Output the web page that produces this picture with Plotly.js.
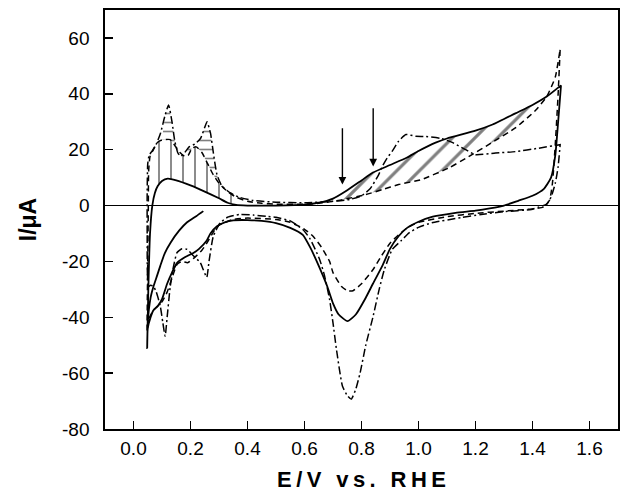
<!DOCTYPE html>
<html>
<head>
<meta charset="utf-8">
<script src="https://cdn.plot.ly/plotly-3.0.1.min.js"></script>
<style>html,body{margin:0;padding:0;background:#fff;}</style>
</head>
<body>
<div id="chart" style="width:620px;height:493px;"></div>
<script>
// ---- Solid curve ----
var solidStartX = [0.245, 0.22, 0.188, 0.16, 0.13, 0.11, 0.094, 0.083, 0.07, 0.06, 0.05];
var solidStartY = [-2, -3.8, -6, -9, -13.3, -17, -21.6, -25, -29, -33, -42];
var solidAnX = [0.048, 0.052, 0.058, 0.066, 0.075, 0.085, 0.1, 0.12, 0.15, 0.2, 0.25, 0.3, 0.33, 0.36, 0.4, 0.5, 0.6, 0.65, 0.7, 0.75, 0.8, 0.84, 0.9, 0.96, 1.0, 1.06, 1.1, 1.2, 1.26, 1.34, 1.4, 1.45, 1.5];
var solidAnY = [-51, -30, -10, 0, 4.5, 7, 8.8, 9.6, 9.0, 7.2, 5.0, 2.6, 1.0, 0.2, 0, 0, 0.3, 1.0, 2.5, 5.5, 9, 11.8, 14.5, 17.2, 19.5, 22.5, 24, 26.8, 29, 33, 36, 39, 43];
var solidCaX = [1.5, 1.49, 1.48, 1.465, 1.44, 1.4, 1.35, 1.3, 1.25, 1.2, 1.13, 1.05, 1.0, 0.96, 0.93, 0.9, 0.873, 0.84, 0.815, 0.78, 0.751, 0.72, 0.70, 0.68, 0.65, 0.62, 0.594, 0.55, 0.5, 0.45, 0.4, 0.35, 0.32, 0.293, 0.27, 0.257, 0.23, 0.21, 0.18, 0.153, 0.135, 0.118, 0.1, 0.085, 0.07, 0.06, 0.05, 0.048];
var solidCaY = [43, 30, 18, 10, 6, 3.5, 1.7, 0, -1, -1.8, -2.6, -4, -5.8, -8, -11, -15.5, -21.6, -28, -33, -39, -41.4, -39, -35, -29, -21.6, -15, -10.5, -8, -6.3, -5.5, -5.2, -5.3, -6, -7.4, -10, -12.5, -15.5, -17, -18.5, -20.5, -24, -28, -33.5, -36, -37.5, -40, -44, -51];

// ---- Dashed curve ----
var dashAnX = [0.048, 0.05, 0.052, 0.053, 0.058, 0.07, 0.083, 0.1, 0.129, 0.145, 0.164, 0.18, 0.192, 0.205, 0.22, 0.24, 0.26, 0.28, 0.3, 0.33, 0.36, 0.4, 0.45, 0.5, 0.6, 0.65, 0.7, 0.733, 0.815, 0.873, 0.93, 1.01, 1.107, 1.176, 1.257, 1.34, 1.41, 1.45, 1.48, 1.497];
var dashAnY = [-45, -20, 0, 12, 17.6, 20, 22.5, 23.5, 23.6, 21.5, 18.9, 17.6, 18, 20.5, 21, 19, 15, 11, 8, 5, 3, 1.5, 0.8, 0.5, 0.5, 0.8, 1.5, 2.1, 3.9, 5.7, 7.5, 9.3, 13.5, 17.5, 22.5, 27.8, 34, 39, 46, 56];
var dashCaX = [1.497, 1.49, 1.48, 1.47, 1.46, 1.44, 1.4, 1.3, 1.2, 1.1, 1.0, 0.96, 0.93, 0.9, 0.87, 0.84, 0.8, 0.77, 0.751, 0.73, 0.7, 0.688, 0.66, 0.63, 0.6, 0.55, 0.5, 0.4, 0.35, 0.3, 0.28, 0.26, 0.24, 0.21, 0.19, 0.17, 0.153, 0.135, 0.118, 0.1, 0.085, 0.07, 0.052, 0.048];
var dashCaY = [56, 40, 22, 8, 2, -0.5, -1.2, -2, -2.8, -4, -6, -8, -10.5, -13.5, -18, -23, -28, -30.5, -30.5, -29, -24, -20, -15, -11, -8.5, -6, -5, -4.5, -5, -7, -9.5, -13, -16, -19, -20.5, -20, -21, -26, -31, -34.5, -36, -37.5, -41, -45];

// ---- Dash-dot curve ----
var ddAnX = [0.052, 0.048, 0.048, 0.05, 0.055, 0.065, 0.08, 0.095, 0.11, 0.123, 0.135, 0.145, 0.155, 0.165, 0.18, 0.195, 0.215, 0.235, 0.25, 0.258, 0.27, 0.28, 0.293, 0.31, 0.34, 0.37, 0.42, 0.5, 0.6, 0.7, 0.76, 0.8, 0.83, 0.86, 0.873, 0.89, 0.908, 0.93, 0.956, 0.99, 1.026, 1.08, 1.12, 1.165, 1.2, 1.27, 1.34, 1.42, 1.497];
var ddAnY = [-29, -10, 5, 15, 18, 19.5, 22, 26, 32, 36, 30, 23, 19, 17.6, 19, 21, 22, 24, 28, 30, 26, 19, 11, 7, 4.5, 3, 1.8, 1.2, 1.0, 1.5, 2.2, 3.5, 6, 11, 14, 17, 19.5, 23, 25.4, 24.8, 24.7, 24, 22.5, 20, 18.2, 18.8, 19.3, 20.5, 21.8];
var ddCaX = [1.497, 1.49, 1.48, 1.465, 1.45, 1.42, 1.396, 1.3, 1.22, 1.15, 1.047, 1.0, 0.967, 0.94, 0.908, 0.88, 0.862, 0.84, 0.815, 0.795, 0.78, 0.764, 0.75, 0.733, 0.712, 0.7, 0.688, 0.67, 0.653, 0.62, 0.594, 0.55, 0.5, 0.467, 0.42, 0.373, 0.33, 0.304, 0.28, 0.265, 0.257, 0.245, 0.234, 0.21, 0.188, 0.17, 0.153, 0.14, 0.129, 0.118, 0.111, 0.103, 0.094, 0.08, 0.07, 0.06, 0.052];
var ddCaY = [21.8, 14, 8, 3, 0.5, -0.6, -1.4, -2.2, -3.2, -4.3, -6.2, -7.8, -9.8, -12.5, -15.7, -23, -30, -40, -50, -60, -65.7, -69.3, -68, -64.6, -51.4, -42, -33.6, -25, -19.3, -12, -8.6, -5.5, -4.2, -3.9, -3.4, -3.2, -4.2, -6.2, -11, -20, -25.7, -23, -20.4, -18, -15.7, -15.5, -16.8, -22, -28.9, -40, -46.8, -42, -36, -31, -28.9, -28.5, -29];

// ---- Arrows ----
var arrowX = [0.733, 0.841];
var arrowTop = [28.2, 35.4];
var arrowTip = [7.5, 14];

// ---- Axis ticks ----
var xTicks = [0.0, 0.2, 0.4, 0.6, 0.8, 1.0, 1.2, 1.4, 1.6];
var xTickText = ['0.0', '0.2', '0.4', '0.6', '0.8', '1.0', '1.2', '1.4', '1.6'];
var yTicks = [-80, -60, -40, -20, 0, 20, 40, 60];
var yTickText = ['-80', '-60', '-40', '-20', '0', '20', '40', '60'];

function sub(xs, ys, lo, hi) {
  var ox = [], oy = [];
  for (var i = 0; i < xs.length; i++) {
    if (xs[i] >= lo && xs[i] <= hi) { ox.push(xs[i]); oy.push(ys[i]); }
  }
  return [ox, oy];
}
function poly(a, b) {
  return [a[0].concat(b[0].slice().reverse()), a[1].concat(b[1].slice().reverse())];
}

var hatchA = poly(sub(solidAnX, solidAnY, 0.65, 1.46), sub(dashAnX, dashAnY, 0.65, 1.46));
var hatchB = poly(sub(solidAnX, solidAnY, 0.066, 0.36), sub(dashAnX, dashAnY, 0.058, 0.36));
var hatchC = poly(sub(dashAnX, dashAnY, 0.1, 0.3), sub(ddAnX, ddAnY, 0.1, 0.3));

function hatch(p, shape, size, sol) {
  return {
    x: p[0], y: p[1], type: 'scatter', mode: 'none', fill: 'toself',
    fillcolor: 'rgba(0,0,0,0)',
    fillpattern: {shape: shape, size: size, solidity: sol, fgcolor: '#000', bgcolor: 'rgba(0,0,0,0)', fillmode: 'overlay'},
    hoverinfo: 'skip', showlegend: false
  };
}

var solidX = solidStartX.concat(solidAnX, solidCaX);
var solidY = solidStartY.concat(solidAnY, solidCaY);
var dashX = dashAnX.concat(dashCaX);
var dashY = dashAnY.concat(dashCaY);
var ddX = ddAnX.concat(ddCaX);
var ddY = ddAnY.concat(ddCaY);

var traces = [
  hatch(hatchA, '/', 16, 0.2),
  hatch(hatchB, '|', 12, 0.15),
  hatch(hatchC, '-', 9, 0.18),
  {x: ddX, y: ddY, type: 'scatter', mode: 'lines', line: {color: '#000', width: 1.5, dash: '8px,3px,2px,3px', shape: 'spline', smoothing: 0.5}, hoverinfo: 'skip', showlegend: false},
  {x: dashX, y: dashY, type: 'scatter', mode: 'lines', line: {color: '#000', width: 1.5, dash: '6px,4px', shape: 'spline', smoothing: 0.5}, hoverinfo: 'skip', showlegend: false},
  {x: solidX, y: solidY, type: 'scatter', mode: 'lines', line: {color: '#000', width: 1.8, shape: 'spline', smoothing: 0.5}, hoverinfo: 'skip', showlegend: false}
];

var annotations = arrowX.map(function (x, i) {
  return {x: x, y: arrowTip[i], ax: x, ay: arrowTop[i], xref: 'x', yref: 'y', axref: 'x', ayref: 'y',
    text: '', showarrow: true, arrowhead: 2, arrowsize: 1.1, arrowwidth: 1.4, arrowcolor: '#000', standoff: 0, startstandoff: 0};
});

var font = 'Liberation Sans, Arial, sans-serif';
var layout = {
  width: 620, height: 493,
  margin: {l: 105, r: 2, t: 10, b: 64},
  paper_bgcolor: '#fff', plot_bgcolor: '#fff',
  showlegend: false,
  font: {family: font, color: '#000', size: 19},
  xaxis: {
    range: [-0.1, 1.7], tickvals: xTicks, ticktext: xTickText,
    ticks: 'inside', ticklen: 8, tickwidth: 1.5, tickcolor: '#000',
    showline: true, linewidth: 1.7, linecolor: '#000', mirror: true,
    showgrid: false, zeroline: false, ticklabelstandoff: 1,
    tickfont: {family: font, size: 19, color: '#000'},
    title: {text: 'E\u2009/\u2009V\u2009 \u2009v\u2009s\u2009.\u2009 \u2009R\u2009H\u2009E', font: {family: font, size: 22, weight: 'bold', color: '#000'}, standoff: 14}
  },
  yaxis: {
    range: [-80, 70], tickvals: yTicks, ticktext: yTickText,
    ticks: 'inside', ticklen: 8, tickwidth: 1.5, tickcolor: '#000',
    showline: true, linewidth: 1.7, linecolor: '#000', mirror: true,
    showgrid: false, zeroline: true, zerolinecolor: '#000', zerolinewidth: 1.6,
    ticklabelstandoff: 10,
    tickfont: {family: font, size: 19, color: '#000'},
    title: {text: 'I/\u03bcA', font: {family: font, size: 23, weight: 'bold', color: '#000'}, standoff: 19}
  },
  annotations: annotations
};

Plotly.newPlot('chart', traces, layout, {displayModeBar: false, staticPlot: true});
</script>
</body>
</html>
